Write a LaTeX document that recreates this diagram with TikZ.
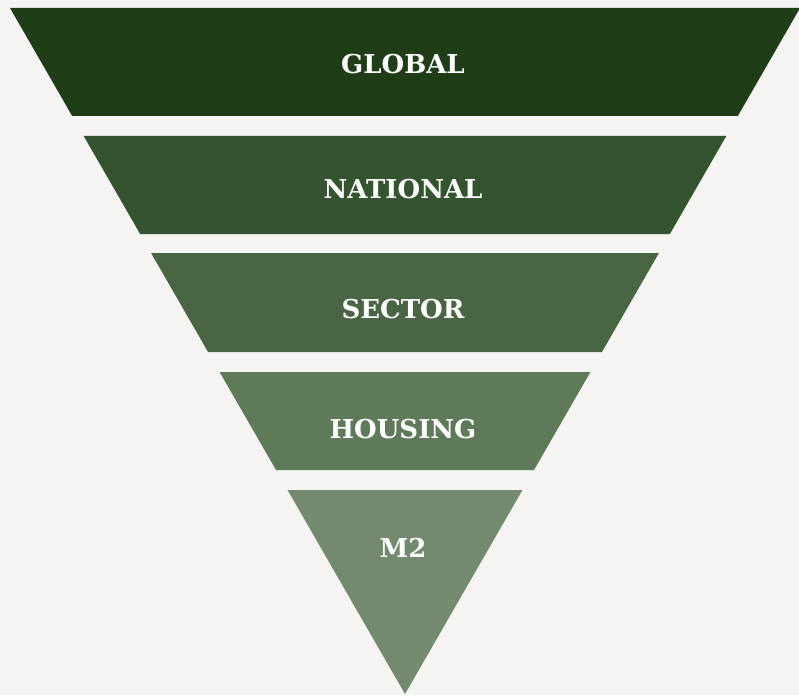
\documentclass[tikz,border=0pt]{standalone}
\usepackage{fontspec}
\setmainfont{DejaVu Serif}
\definecolor{bg}{HTML}{F5F4F2}
\definecolor{cA}{HTML}{1F3D17}
\definecolor{cB}{HTML}{34532F}
\definecolor{cC}{HTML}{4A6544}
\definecolor{cD}{HTML}{5F7A59}
\definecolor{cE}{HTML}{738A6E}
\tikzset{
  lbl/.style={text=white, font=\fontsize{26}{30}\selectfont\bfseries, inner sep=0pt, anchor=base}
}
\begin{document}
\begin{tikzpicture}[x=1pt,y=-1pt]
\fill[bg] (0,0) rectangle (799,695);
\useasboundingbox (0,0) rectangle (799,695);
% half width at y: (694-y)*0.5758, centre 405
\def\hw#1{(694-#1)*0.5758}
\fill[cA] ({405-\hw{8}},8) -- ({405+\hw{8}},8) -- ({405+\hw{116}},116) -- ({405-\hw{116}},116) -- cycle;
\fill[cB] ({405-\hw{136}},136) -- ({405+\hw{136}},136) -- ({405+\hw{234}},234) -- ({405-\hw{234}},234) -- cycle;
\fill[cC] ({405-\hw{253}},253) -- ({405+\hw{253}},253) -- ({405+\hw{352}},352) -- ({405-\hw{352}},352) -- cycle;
\fill[cD] ({405-\hw{372}},372) -- ({405+\hw{372}},372) -- ({405+\hw{470}},470) -- ({405-\hw{470}},470) -- cycle;
\fill[cE] ({405-\hw{490}},490) -- ({405+\hw{490}},490) -- (405,694) -- cycle;
\node[lbl] (global) at (403,74) {GLOBAL};
\node[lbl] (national) at (403,198) {NATIONAL};
\node[lbl] (sector) at (403,318) {SECTOR};
\node[lbl] (housing) at (403,438) {HOUSING};
\node[lbl] (m2) at (403,557) {M2};
\end{tikzpicture}
\end{document}
